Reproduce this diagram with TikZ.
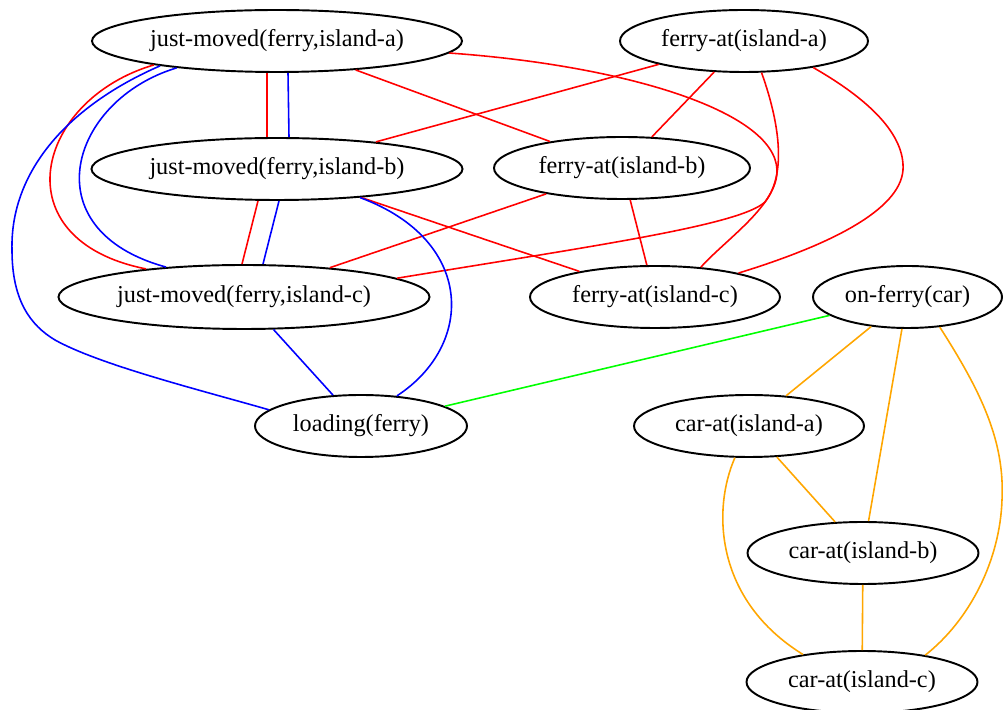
\documentclass[tikz,border=0pt]{standalone}
\usepackage{fontspec}
\setmainfont{Liberation Serif}
\usetikzlibrary{shapes.geometric}
\definecolor{carorange}{rgb}{1.0, 0.65, 0.0}
\tikzset{fact/.style={ellipse, draw, line width=0.55pt, inner sep=0pt, minimum height=6.2mm, font=\fontsize{6.9}{8}\selectfont}}

\begin{document}
\begin{tikzpicture}[x=0.1mm, y=-0.1mm, line width=0.45pt]
            \useasboundingbox (0,0) rectangle (1003,710);
            % ferry
            \node[fact, minimum width=37mm] (ja) at (277,41) {just-moved(ferry,island-a)};
            \node[fact, minimum width=37.1mm] (jb) at (277,169) {just-moved(ferry,island-b)};
            \node[fact, minimum width=37.1mm, minimum height=6.4mm] (jc) at (244,297) {just-moved(ferry,island-c)};
            \node[fact, minimum width=24.8mm] (fa) at (744,41) {ferry-at(island-a)};
            \node[fact, minimum width=25.6mm] (fb) at (622,168) {ferry-at(island-b)};
            \node[fact, minimum width=25mm] (fc) at (655,297) {ferry-at(island-c)};
            \node[fact, minimum width=21.2mm] (ld) at (361,426) {loading(ferry)};

            % car
            \node[fact, minimum width=18.9mm] (on) at (907.5,297) {on-ferry(car)};
            \node[fact, minimum width=23mm] (ca) at (749,426) {car-at(island-a)};
            \node[fact, minimum width=23.1mm] (cb) at (863,553) {car-at(island-b)};
            \node[fact, minimum width=23.1mm] (cc) at (862,682) {car-at(island-c)};

            % red
            \draw[red] ([xshift=-1mm]ja.south) -- ([xshift=-1mm]jb.north);
            \draw[red] (ja) -- (fb);
            \draw[red] (ja.356) .. controls (620,65) and (775,110) .. (777,170)
                .. controls (778,205) and (725,240) .. (fc.33);
            \draw[red] (ja.191) .. controls (35,100) and (0,240) .. (jc.164);
            \draw[red] (fa) -- (jb);
            \draw[red] (fa) -- (fb);
            \draw[red] (fa.-21) .. controls (870,100) and (905,135) .. (903,170)
                .. controls (900,210) and (830,245) .. (fc.16);
            \draw[red] (fa.-61) .. controls (775,110) and (790,170) .. (765,202)
                .. controls (740,225) and (600,245) .. (jc.7);
            \draw[red] ([xshift=-1.9mm]jb.south) -- ([xshift=-0.2mm]jc.north);
            \draw[red] (jb) -- (fc);
            \draw[red] (fb) -- (jc);
            \draw[red] (fb) -- (fc);

            % blue
            \draw[blue] ([xshift=1.1mm]ja.south) -- ([xshift=1.2mm]jb.north);
            \draw[blue] (ja.195.5) .. controls (70,100) and (30,230) .. (jc.159);
            \draw[blue] (ja.192.5) .. controls (70,105) and (10,170) .. (12,250)
                .. controls (12,300) and (30,325) .. (55,340)
                .. controls (100,365) and (200,390) .. (ld.170);
            \draw[blue] ([xshift=0.2mm]jb.south) -- ([xshift=1.9mm]jc.north);
            \draw[blue] (jb.341) .. controls (475,240) and (475,345) .. (ld.40);
            \draw[blue] (jc) -- (ld);

            % green
            \draw[green] (on) -- (ld);

            % orange
            \draw[carorange] (on) -- (ca);
            \draw[carorange] (on) -- (cb);
            \draw[carorange] (on.-43) .. controls (980,390) and (1005,440) .. (1002,500)
                .. controls (1000,560) and (970,620) .. (cc.23);
            \draw[carorange] (ca) -- (cb);
            \draw[carorange] (ca.246) .. controls (712,510) and (715,600) .. (cc.155);
            \draw[carorange] (cb) -- (cc);
\end{tikzpicture}
\end{document}
